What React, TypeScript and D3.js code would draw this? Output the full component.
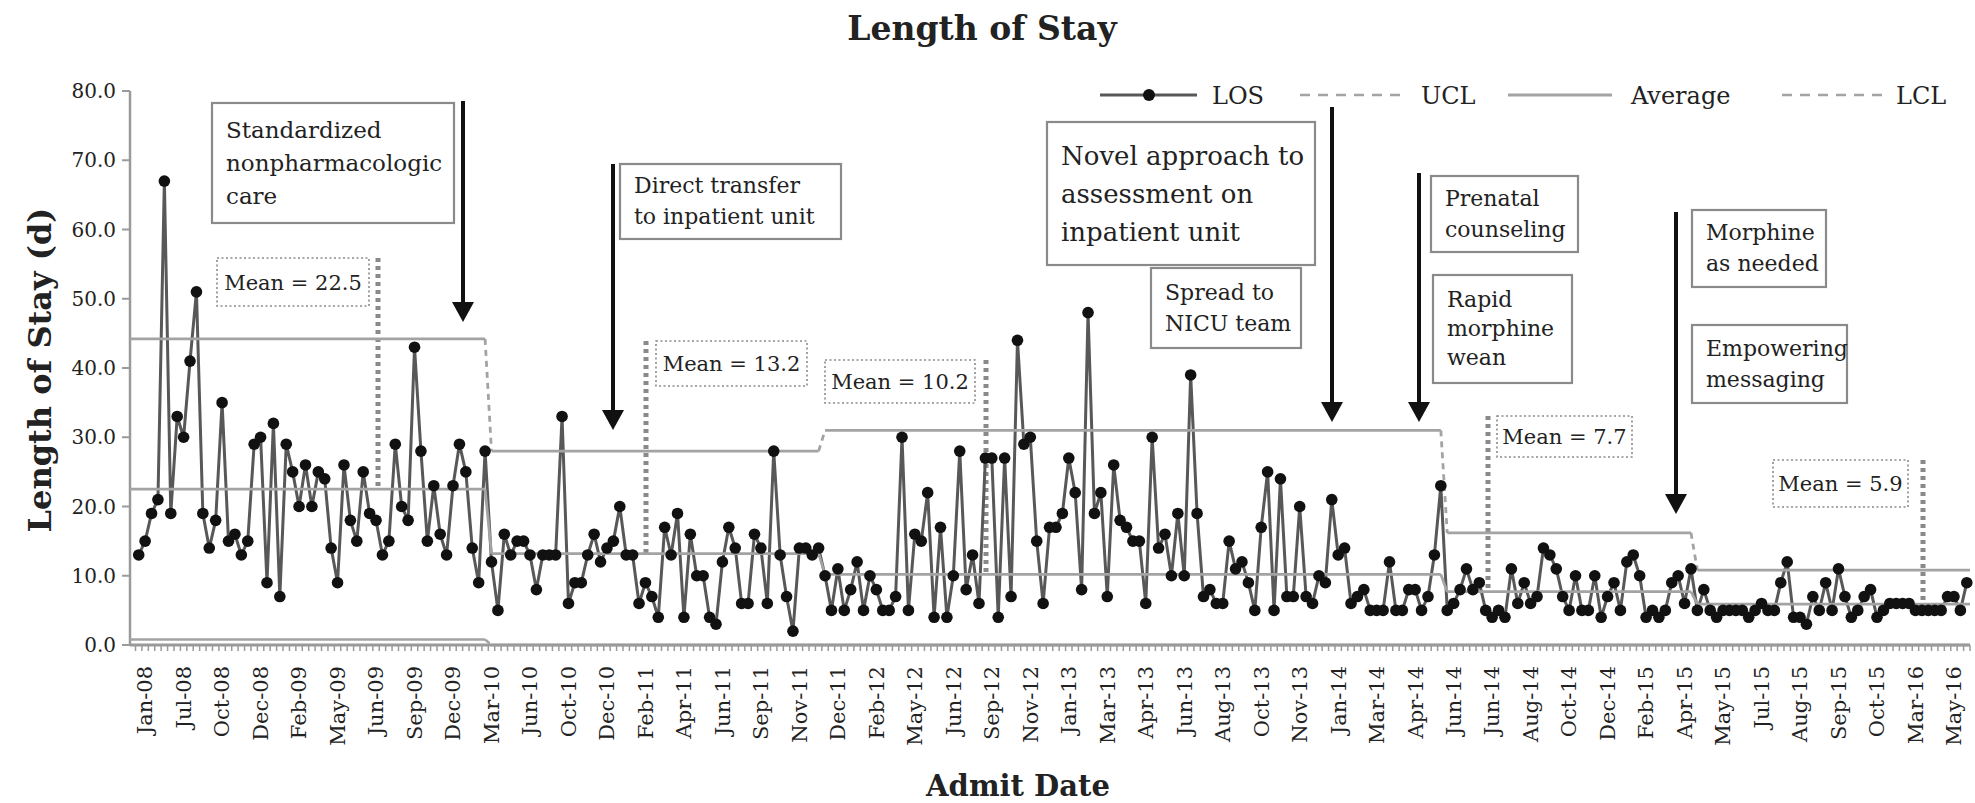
import React from "react";
import * as d3 from "d3";

// ---- data ----
const phase1Los = [13,15,19,21,67,19,33,30,41,51,19,14,18,35,15,16,13,15,29,30,9,32,7,29,25,20,26,20,25,24,14,9,26,18,15,25,19,18,13,15,29,20,18,43,28,15,23,16,13,23,29,25,14,9,28];
const phase2Los = [12,5,16,13,15,15,13,8,13,13,13,33,6,9,9,13,16,12,14,15,20,13,13,6,9,7,4,17,13,19,4,16,10,10,4,3,12,17,14,6,6,16,14,6,28,13,7,2,14,14,13,14];
const phase3Los = [10,5,11,5,8,12,5,10,8,5,5,7,30,5,16,15,22,4,17,4,10,28,8,13,6,27,27,4,27,7,44,29,30,15,6,17,17,19,27,22,8,48,19,22,7,26,18,17,15,15,6,30,14,16,10,19,10,39,19,7,8,6,6,15,11,12,9,5,17,25,5,24,7,7,20,7,6,10,9,21,13,14,6,7,8,5,5,5,12,5,5,8,8,5,7,13,23];
const phase4Los = [5,6,8,11,8,9,5,4,5,4,11,6,9,6,7,14,13,11,7,5,10,5,5,10,4,7,9,5,12,13,10,4,5,4,5,9,10,6,11];
const phase5Los = [5,8,5,4,5,5,5,5,4,5,6,5,5,9,12,4,4,3,7,5,9,5,11,7,4,5,7,8,4,5,6,6,6,6,5,5,5,5,5,7,7,5,9];

const phaseMeans = [22.5, 13.2, 10.2, 7.7, 5.9];
const phaseUCL = [44.2, 28.0, 31.0, 16.2, 10.8];
const phaseLCL = [0.8, 0, 0, 0, 0];

const xTickLabels = ["Jan-08","Jul-08","Oct-08","Dec-08","Feb-09","May-09","Jun-09","Sep-09","Dec-09","Mar-10","Jun-10","Oct-10","Dec-10","Feb-11","Apr-11","Jun-11","Sep-11","Nov-11","Dec-11","Feb-12","May-12","Jun-12","Sep-12","Nov-12","Jan-13","Mar-13","Apr-13","Jun-13","Aug-13","Oct-13","Nov-13","Jan-14","Mar-14","Apr-14","Jun-14","Jun-14","Aug-14","Oct-14","Dec-14","Feb-15","Apr-15","May-15","Jul-15","Aug-15","Sep-15","Oct-15","Mar-16","May-16"];
const yTickValues = [0, 10, 20, 30, 40, 50, 60, 70, 80];

const annotationTexts = [
  ["Standardized", "nonpharmacologic", "care"],
  ["Direct transfer", "to inpatient unit"],
  ["Novel approach to", "assessment on", "inpatient unit"],
  ["Spread to", "NICU team"],
  ["Prenatal", "counseling"],
  ["Rapid", "morphine", "wean"],
  ["Morphine", "as needed"],
  ["Empowering", "messaging"],
];

// ---- layout ----
const W = 1975, H = 803;
const LEFT = 130, RIGHT = 1970, TOP = 91, BOTTOM = 645;
const BAND_START = 135.5;
const FONT = "'DejaVu Serif', 'Liberation Serif', serif";
const TEXT = "#222";
const CTRL = "#a3a3a3";

const annotationBoxes = [
  { x: 212, y: 103, w: 242, h: 120, fs: 23, lh: 33 },
  { x: 620, y: 164, w: 221, h: 75, fs: 22, lh: 31 },
  { x: 1047, y: 122, w: 268, h: 143, fs: 26, lh: 38 },
  { x: 1151, y: 268, w: 150, h: 80, fs: 22, lh: 31 },
  { x: 1431, y: 176, w: 147, h: 76, fs: 22, lh: 31 },
  { x: 1433, y: 275, w: 139, h: 108, fs: 22, lh: 29 },
  { x: 1692, y: 210, w: 134, h: 77, fs: 22, lh: 31 },
  { x: 1692, y: 325, w: 155, h: 78, fs: 22, lh: 31 },
];
const meanBoxes = [
  { x: 217, y: 258, w: 152, h: 48, vx: 378 },
  { x: 656, y: 341, w: 151, h: 45, vx: 646 },
  { x: 825, y: 360, w: 150, h: 43, vx: 986 },
  { x: 1497, y: 416, w: 135, h: 41, vx: 1488 },
  { x: 1773, y: 460, w: 135, h: 47, vx: 1923 },
];
const arrows = [
  { x: 463, y0: 101, y1: 322 },
  { x: 613, y0: 164, y1: 430 },
  { x: 1332, y0: 107, y1: 422 },
  { x: 1419, y0: 173, y1: 422 },
  { x: 1676, y0: 212, y1: 514 },
];

export default function App() {
  const phases = [phase1Los, phase2Los, phase3Los, phase4Los, phase5Los];
  const los = phases.flat();
  const N = los.length;
  const starts: number[] = [];
  let acc = 0;
  phases.forEach((p) => { starts.push(acc); acc += p.length; });
  const ends = phases.map((p, k) => starts[k] + p.length - 1);

  const x = d3.scaleBand<number>().domain(d3.range(N)).range([BAND_START, RIGHT]);
  const bw = x.bandwidth();
  const cx = (i: number) => (x(i) as number) + bw / 2;
  const y = d3.scaleLinear().domain([0, 80]).range([BOTTOM, TOP]);

  const losPath = d3.line<number>().x((_, i) => cx(i)).y((d) => y(d))(los) || "";
  const seg = d3.line<[number, number]>();

  const controlSet = (vals: number[]) => {
    const solids: string[] = [];
    const conns: string[] = [];
    vals.forEach((v, k) => {
      const x0 = k === 0 ? LEFT : cx(starts[k]);
      const x1 = k === vals.length - 1 ? RIGHT : cx(ends[k]);
      solids.push(seg([[x0, y(v)], [x1, y(v)]]) || "");
      if (k < vals.length - 1) {
        conns.push(seg([[cx(ends[k]), y(v)], [cx(starts[k + 1]), y(vals[k + 1])]]) || "");
      }
    });
    return { solids, conns };
  };
  const ucl = controlSet(phaseUCL);
  const avg = controlSet(phaseMeans);
  const lcl = controlSet(phaseLCL);

  const labelIdx = xTickLabels.map((_, k) => Math.min(1 + 6 * k, N - 1));

  return (
    <svg width={W} height={H} style={{ position: "absolute", left: 0, top: 0, background: "#fff" }} fontFamily={FONT}>
      <rect x={0} y={0} width={W} height={H} fill="#fff" />
      {/* title */}
      <text x={982} y={40} textAnchor="middle" fontSize={33} fontWeight="bold" fill={TEXT}>Length of Stay</text>

      {/* y axis */}
      <line x1={LEFT} x2={LEFT} y1={TOP} y2={BOTTOM} stroke="#9a9a9a" strokeWidth={2.5} />
      {yTickValues.map((v) => (
        <g key={v}>
          <line x1={LEFT - 8} x2={LEFT} y1={y(v)} y2={y(v)} stroke="#9a9a9a" strokeWidth={2} />
          <text x={116} y={y(v)} dy="0.35em" textAnchor="end" fontSize={20} fill={TEXT}>{v.toFixed(1)}</text>
        </g>
      ))}
      <text transform={`translate(40,${(TOP + BOTTOM) / 2 + 2}) rotate(-90)`} textAnchor="middle" dy="0.35em" fontSize={32} fontWeight="bold" fill={TEXT}>Length of Stay (d)</text>

      {/* LCL */}
      {lcl.solids.map((d, i) => <path key={"ls" + i} d={d} stroke={CTRL} strokeWidth={2.5} fill="none" />)}
      {lcl.conns.map((d, i) => <path key={"lc" + i} d={d} stroke={CTRL} strokeWidth={2.5} fill="none" strokeDasharray="6,5" />)}

      {/* x axis */}
      <line x1={LEFT} x2={RIGHT} y1={BOTTOM} y2={BOTTOM} stroke="#9a9a9a" strokeWidth={3} />
      {d3.range(N + 1).map((i) => (
        <line key={"t" + i} x1={BAND_START + i * bw} x2={BAND_START + i * bw} y1={BOTTOM} y2={BOTTOM + 6} stroke="#9a9a9a" strokeWidth={1.5} />
      ))}
      {xTickLabels.map((lab, k) => (
        <text key={"xl" + k} transform={`translate(${cx(labelIdx[k])},666) rotate(-90)`} textAnchor="end" dy="0.35em" fontSize={21} fill={TEXT}>{lab}</text>
      ))}
      <text x={1018} y={796} textAnchor="middle" fontSize={29} fontWeight="bold" fill={TEXT}>Admit Date</text>

      {/* mean boxes with dotted markers */}
      {meanBoxes.map((b, k) => (
        <g key={"mb" + k}>
          <rect x={b.x} y={b.y} width={b.w} height={b.h} fill="none" stroke="#8a8a8a" strokeWidth={1.6} strokeDasharray="2,2.5" />
          <text x={b.x + b.w / 2} y={b.y + b.h / 2} dy="0.36em" textAnchor="middle" fontSize={21} fill={TEXT}>{`Mean = ${phaseMeans[k]}`}</text>
          <line x1={b.vx} x2={b.vx} y1={b.y} y2={y(phaseMeans[k])} stroke="#8a8a8a" strokeWidth={5} strokeDasharray="4,4" />
        </g>
      ))}

      {/* LOS series */}
      <path d={losPath} fill="none" stroke="#585858" strokeWidth={3} strokeLinejoin="round" />

      {ucl.solids.map((d, i) => <path key={"us" + i} d={d} stroke={CTRL} strokeWidth={2.8} fill="none" />)}
      {ucl.conns.map((d, i) => <path key={"uc" + i} d={d} stroke={CTRL} strokeWidth={2.8} fill="none" strokeDasharray="6,5" />)}
      {avg.solids.map((d, i) => <path key={"as" + i} d={d} stroke={CTRL} strokeWidth={2.8} fill="none" />)}
      {avg.conns.map((d, i) => <path key={"ac" + i} d={d} stroke={CTRL} strokeWidth={2.8} fill="none" />)}

      {los.map((v, i) => (
        <circle key={"p" + i} cx={cx(i)} cy={y(v)} r={5.8} fill="#111" />
      ))}

      {/* annotation boxes */}
      {annotationBoxes.map((b, k) => {
        const lines = annotationTexts[k];
        const pad = (b.h - lines.length * b.lh) / 2;
        return (
          <g key={"ab" + k}>
            <rect x={b.x} y={b.y} width={b.w} height={b.h} fill="#fff" stroke="#8a8a8a" strokeWidth={2.2} />
            {lines.map((t, j) => (
              <text key={j} x={b.x + 14} y={b.y + pad + j * b.lh + b.lh * 0.74} fontSize={b.fs} fill={TEXT}>{t}</text>
            ))}
          </g>
        );
      })}

      {/* arrows */}
      {arrows.map((a, k) => (
        <g key={"ar" + k}>
          <line x1={a.x} x2={a.x} y1={a.y0} y2={a.y1 - 18} stroke="#111" strokeWidth={4} />
          <path d={`M${a.x - 11},${a.y1 - 20} L${a.x + 11},${a.y1 - 20} L${a.x},${a.y1} Z`} fill="#111" />
        </g>
      ))}

      {/* legend */}
      <g>
        <line x1={1100} x2={1197} y1={95} y2={95} stroke="#585858" strokeWidth={3} />
        <circle cx={1149} cy={95} r={6} fill="#111" />
        <text x={1212} y={95} dy="0.36em" fontSize={24} fill={TEXT}>LOS</text>
        <line x1={1300} x2={1404} y1={95} y2={95} stroke={CTRL} strokeWidth={2.5} strokeDasharray="10,8" />
        <text x={1421} y={95} dy="0.36em" fontSize={24} fill={TEXT}>UCL</text>
        <line x1={1508} x2={1612} y1={95} y2={95} stroke={CTRL} strokeWidth={2.8} />
        <text x={1631} y={95} dy="0.36em" fontSize={24} fill={TEXT}>Average</text>
        <line x1={1782} x2={1883} y1={95} y2={95} stroke={CTRL} strokeWidth={2.5} strokeDasharray="10,8" />
        <text x={1896} y={95} dy="0.36em" fontSize={24} fill={TEXT}>LCL</text>
      </g>
    </svg>
  );
}
